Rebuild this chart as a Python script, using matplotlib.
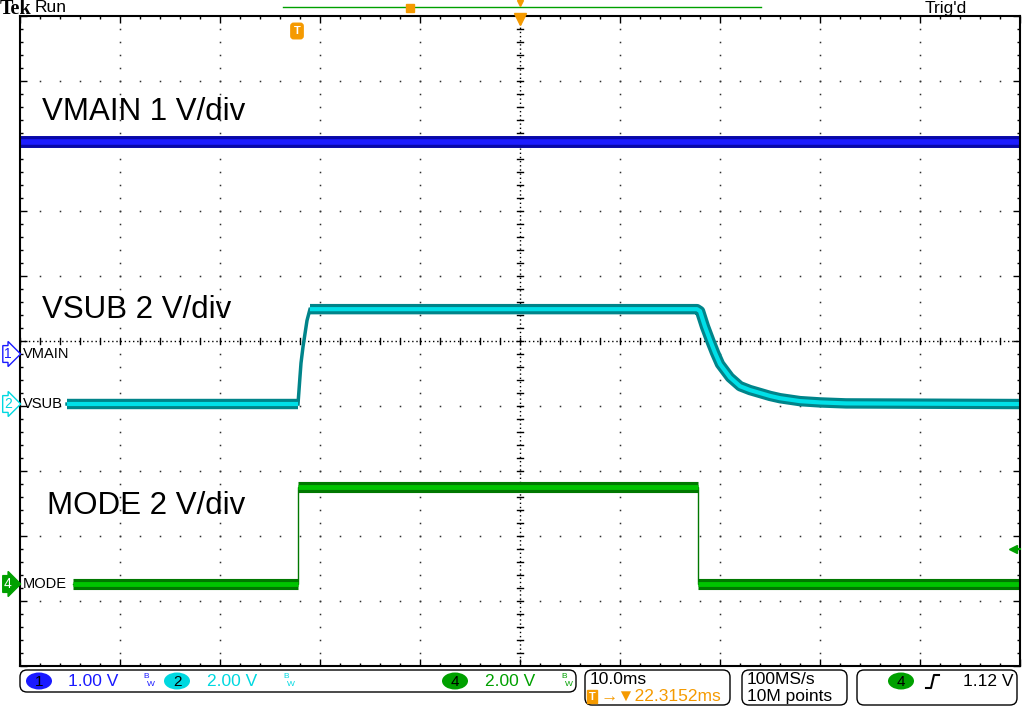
import matplotlib
matplotlib.use("Agg")
import matplotlib.pyplot as plt
from matplotlib.patches import FancyBboxPatch, Ellipse
import numpy as np

plt.rcParams['font.family'] = ['Liberation Sans', 'DejaVu Sans']

# time axis in ms, trigger at 0, 10 ms/div, 10 divisions
t_left = -27.6
t_right = 72.4

# channel setup: ground position (div) and scale (V/div)
vmain_gnd, vmain_scale = -0.2, 1.0
vsub_gnd, vsub_scale = -0.97, 2.0
mode_gnd, mode_scale = -3.74, 2.0

# VMAIN (V)
vmain_t = [-27.6, 72.4]
vmain_v = [3.26, 3.26]

# VSUB (V)
vsub_t = [-22.9, 0.2, 0.4, 0.5, 0.7, 1.1, 1.4, 40.1, 40.4, 40.9, 41.4, 41.9, 42.4, 43.4, 44.4,
          45.4, 46.4, 47.4, 48.4, 50.4, 52.4, 55.0, 72.4]
vsub_v = [0.0, 0.0, 0.85, 1.26, 1.76, 2.57, 2.92, 2.92, 2.86, 2.38, 1.97, 1.58, 1.23, 0.82, 0.55,
          0.43, 0.34, 0.25, 0.18, 0.09, 0.05, 0.02, 0.0]

# MODE (V)
mode_t = [-22.3, 0.2, 0.2, 40.2, 40.2, 72.4]
mode_v = [0.0, 0.0, 2.98, 2.98, 0.0, 0.0]

fig = plt.figure(figsize=(10.24, 7.08), dpi=100)
ax = fig.add_axes([20 / 1024, 42 / 708, 1000 / 1024, 650 / 708])
ax.set_xlim(t_left, t_right)
ax.set_ylim(-5, 5)

# graticule
dot = dict(ls='none', marker='s', ms=1.1, color='#303030', mew=0)
for k in range(1, 10):
    xg = t_left + 10 * k
    if k != 5:
        ax.plot(np.full(51, xg), np.arange(-5, 5.01, 0.2), **dot)
for j in range(-4, 5):
    if j != 0:
        ax.plot(np.arange(t_left, t_right + 0.01, 2), np.full(51, j), **dot)
tc = t_left + 50
ax.plot([t_left, t_right], [0, 0], color='black', lw=1, ls=(0, (1, 2)))
ax.plot([tc, tc], [-5, 5], color='black', lw=1, ls=(0, (1, 2)))
for xt in np.arange(t_left, t_right + 0.01, 2):
    ax.plot([xt, xt], [-0.05, 0.05], color='black', lw=1)
for yt in np.arange(-5, 5.01, 0.2):
    ax.plot([tc - 0.3, tc + 0.3], [yt, yt], color='black', lw=1)

ax.set_xticks(np.arange(t_left, t_right + 0.01, 10))
ax.set_xticks(np.arange(t_left, t_right + 0.01, 2), minor=True)
ax.set_yticks(np.arange(-5, 5.01, 1))
ax.set_yticks(np.arange(-5, 5.01, 0.2), minor=True)
ax.tick_params(which='both', direction='in', top=True, right=True,
               labelbottom=False, labelleft=False, color='black', width=1)
ax.tick_params(which='major', length=5)
ax.tick_params(which='minor', length=2)
for s in ax.spines.values():
    s.set_linewidth(1.5)


def draw_trace(t, v, gnd, scale, dark, bright, wide, narrow, edge_lw):
    # fast edges are drawn thin, the rest as a thick persistence band
    t = np.asarray(t, float)
    y = gnd + np.asarray(v, float) / scale
    ax.plot(t, y, color=dark, lw=edge_lw, solid_joinstyle='miter')
    slope = np.abs(np.diff(y)) / np.maximum(np.diff(t), 1e-9)
    slow = slope < 0.55
    i = 0
    while i < len(slow):
        if slow[i]:
            j = i
            while j < len(slow) and slow[j]:
                j += 1
            ax.plot(t[i:j + 1], y[i:j + 1], color=dark, lw=wide, solid_capstyle='butt', solid_joinstyle='round')
            ax.plot(t[i:j + 1], y[i:j + 1], color=bright, lw=narrow, solid_capstyle='butt', solid_joinstyle='round')
            i = j
        else:
            i += 1


draw_trace(vmain_t, vmain_v, vmain_gnd, vmain_scale, '#0808a8', '#1c1cff', 8.6, 4, 1)
draw_trace(vsub_t, vsub_v, vsub_gnd, vsub_scale, '#00848a', '#00e0e8', 7.5, 3, 2.5)
draw_trace(mode_t, mode_v, mode_gnd, mode_scale, '#007800', '#00c400', 8, 3.5, 1)

# trace labels
ax.text(t_left + 2.2, 3.53, "VMAIN 1 V/div", fontsize=22.5, va='center', color='black')
ax.text(t_left + 2.2, 0.48, "VSUB 2 V/div", fontsize=22.5, va='center', color='black')
ax.text(t_left + 2.7, -2.54, "MODE 2 V/div", fontsize=22.5, va='center', color='black')

# overlay in pixel coordinates for the scope decorations
ov = fig.add_axes([0, 0, 1, 1], facecolor='none')
ov.set_xlim(0, 1024)
ov.set_ylim(708, 0)
ov.axis('off')

orange = '#f59a00'
blue = '#1a1aff'
cyan = '#00d8e0'
green = '#00a000'

ov.text(0, 9, "Tek", fontsize=14.5, fontweight='bold', family='Liberation Serif', va='center')
ov.text(35, 8, "Run", fontsize=12.5, va='center')
ov.text(925, 8, "Trig'd", fontsize=12.5, va='center')
ov.plot([283, 761], [7, 7], color=green, lw=1)
ov.plot([410], [8], marker='s', ms=6, color=orange)
ov.plot([520], [3], marker='v', ms=5, color=orange)
ov.plot([520], [19], marker='v', ms=8, color=orange)
ov.text(297, 31, "T", fontsize=8, fontweight='bold', color='white', ha='center', va='center',
        bbox=dict(boxstyle='round,pad=0.25', fc=orange, ec=orange))

# channel ground markers
ov.text(8, 354, "1", fontsize=10, color=blue, ha='center', va='center',
        bbox=dict(boxstyle='rarrow,pad=0.1', fc='white', ec=blue, lw=1))
ov.text(23, 354, "VMAIN", fontsize=10.5, va='center')
ov.text(8, 404, "2", fontsize=10, color=cyan, ha='center', va='center',
        bbox=dict(boxstyle='rarrow,pad=0.1', fc='white', ec=cyan, lw=1))
ov.text(23, 404, "VSUB", fontsize=10.5, va='center')
ov.text(8, 584, "4", fontsize=10, color='white', ha='center', va='center',
        bbox=dict(boxstyle='rarrow,pad=0.1', fc=green, ec=green, lw=1))
ov.text(23, 584, "MODE", fontsize=10.5, va='center')
ov.plot([1013], [549], marker='<', ms=6, color=green)
ov.plot([1013, 1020], [549, 549], color=green, lw=1.5)

# status bar
for x0, y0, x1, y1 in [(20, 670, 576, 692), (585, 670, 730, 705), (742, 670, 847, 705), (857, 670, 1017, 705)]:
    ov.add_patch(FancyBboxPatch((x0, y0), x1 - x0, y1 - y0, boxstyle='round,pad=0,rounding_size=7',
                                fc='white', ec='black', lw=1))

for cx, col, num in [(39, blue, "1"), (177, cyan, "2"), (455, green, "4"), (901, green, "4")]:
    ov.add_patch(Ellipse((cx, 681), 26, 17, fc=col, ec='none'))
    ov.text(cx, 681.5, num, fontsize=11, ha='center', va='center', color='black')

ov.text(68, 681.5, "1.00 V", fontsize=12.5, color=blue, va='center')
ov.text(207, 681.5, "2.00 V", fontsize=12.5, color=cyan, va='center')
ov.text(485, 681.5, "2.00 V", fontsize=12.5, color=green, va='center')
for bx, col in [(143, blue), (283, cyan), (561, green)]:
    ov.text(bx, 677, "B", fontsize=6, color=col, va='center')
    ov.text(bx + 4, 684, "W", fontsize=6, color=col, va='center')

ov.text(590, 680, "10.0ms", fontsize=12.5, va='center')
ov.text(592, 696.5, "T", fontsize=8, fontweight='bold', color='white', ha='center', va='center',
        bbox=dict(boxstyle='square,pad=0.15', fc=orange, ec=orange))
ov.text(600, 696.5, "→▼22.3152ms", fontsize=12.5, color=orange, va='center')
ov.text(747, 680, "100MS/s", fontsize=12.5, va='center')
ov.text(747, 696.5, "10M points", fontsize=12.5, va='center')
ov.plot([926, 931, 934, 939], [688, 688, 675, 675], color='black', lw=1.5)
ov.text(963, 681.5, "1.12 V", fontsize=12.5, va='center')

plt.savefig("out.png", dpi=100)
